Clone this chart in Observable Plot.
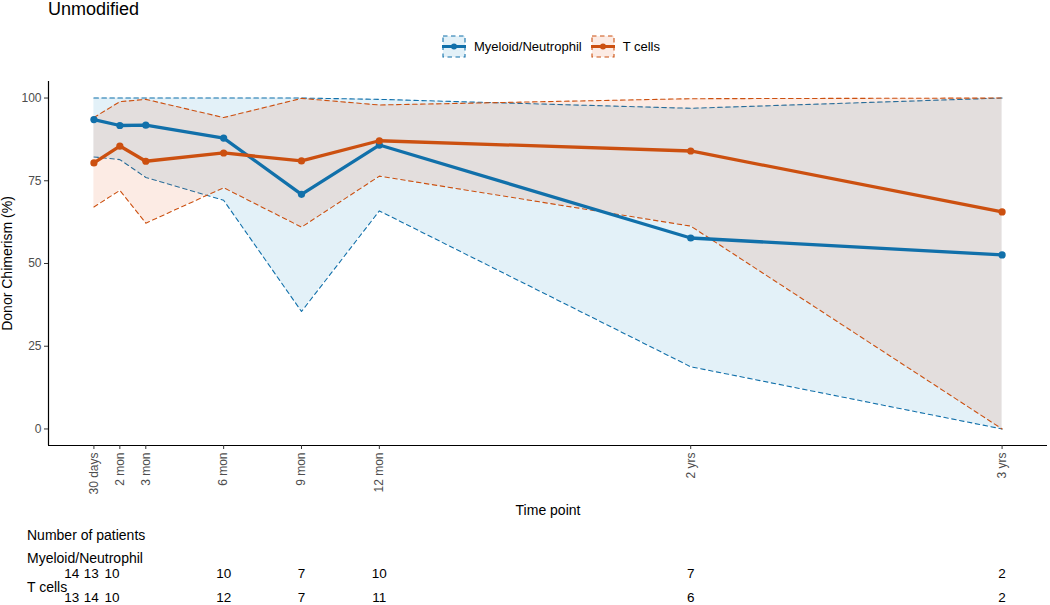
<!DOCTYPE html>
<html>
<head>
<meta charset="utf-8">
<script src="https://cdn.jsdelivr.net/npm/d3@7"></script>
<script src="https://cdn.jsdelivr.net/npm/@observablehq/plot@0.6"></script>
<style>
  body { margin: 0; background: #fff; font-family: "Liberation Sans", Arial, Helvetica, sans-serif; }
  #root { position: relative; width: 1050px; height: 605px; overflow: hidden; background: #fff; }
  #title { position: absolute; left: 48px; top: 0px; font-size: 18px; line-height: 18px; color: #000; }
  #legend { position: absolute; left: 442px; top: 35px; display: flex; align-items: center; font-size: 13px; color: #000; }
  #legend .item { display: flex; align-items: center; margin-right: 9px; }
  #legend svg { margin-right: 8px; display: block; }
  #chart { position: absolute; left: 0; top: 64px; }
  #table { position: absolute; left: 0; top: 560px; }
  .rowlab { position: absolute; left: 27px; font-size: 14px; line-height: 16px; color: #000; white-space: nowrap; }
</style>
</head>
<body>
<div id="root">
  <div id="title">Unmodified</div>
  <div id="legend"></div>
  <div id="chart"></div>
  <div class="rowlab" style="top:527px">Number of patients</div>
  <div class="rowlab" style="top:550px" id="lab0"></div>
  <div class="rowlab" style="top:579px" id="lab1"></div>
  <div id="table"></div>
</div>
<script>
// ---- data ----
const timeLabels = ["30 days", "2 mon", "3 mon", "6 mon", "9 mon", "12 mon", "2 yrs", "3 yrs"];
const timeMonths = [1, 2, 3, 6, 9, 12, 24, 36];
const seriesNames = ["Myeloid/Neutrophil", "T cells"];
const seriesColors = ["#1170AA", "#CC5010"];
const ribbonColors = ["#168AC5", "#E6581E"];

const myeloidMean  = [93.5, 91.7, 91.8, 87.9, 70.9, 85.8, 57.7, 52.6];
const myeloidLower = [82.2, 81.4, 76.0, 69.1, 35.5, 65.9, 18.8, 0];
const myeloidUpper = [100, 100, 100, 100, 100, 99.6, 96.9, 100];

const tcellMean  = [80.4, 85.5, 80.9, 83.4, 81.0, 87.1, 84.0, 65.6];
const tcellLower = [67.1, 72.1, 62.2, 72.9, 61.0, 76.4, 61.3, 0];
const tcellUpper = [94.1, 98.9, 99.6, 94.1, 99.9, 97.9, 99.8, 100];

const myeloidN = [14, 13, 10, 10, 7, 10, 7, 2];
const tcellN   = [13, 14, 10, 12, 7, 11, 6, 2];
const countPos = [0.15, 0.9, 1.7, 6, 9, 12, 24, 36]; // where the counts sit along the time axis (months)

const yTicks = [0, 25, 50, 75, 100];
const xDomain = [-0.75, 37.75];
const yDomain = [-5, 105];

// ---- build tables ----
const seriesData = [
  {name: seriesNames[0], mean: myeloidMean, lower: myeloidLower, upper: myeloidUpper, n: myeloidN},
  {name: seriesNames[1], mean: tcellMean, lower: tcellLower, upper: tcellUpper, n: tcellN}
];
const long = seriesData.flatMap(s => timeMonths.map((m, i) => ({
  series: s.name, month: m, mean: s.mean[i], lower: s.lower[i], upper: s.upper[i]
})));
const counts = seriesData.flatMap(s => s.n.map((n, i) => ({series: s.name, pos: countPos[i], n})));

const color = {domain: seriesNames, range: seriesColors};
const dash = "4.5,3.5";
const font = "'Liberation Sans', Arial, Helvetica, sans-serif";

const ribbonMarks = seriesNames.flatMap((name, i) => {
  const rows = long.filter(d => d.series === name);
  return [
    Plot.areaY(rows, {x: "month", y1: "lower", y2: "upper", fill: ribbonColors[i], fillOpacity: 0.12}),
    Plot.lineY(rows, {x: "month", y: "upper", stroke: seriesColors[i], strokeWidth: 1.1, strokeDasharray: dash}),
    Plot.lineY(rows, {x: "month", y: "lower", stroke: seriesColors[i], strokeWidth: 1.1, strokeDasharray: dash})
  ];
});

const chart = Plot.plot({
  width: 1050,
  height: 456,
  marginLeft: 48,
  marginRight: 3,
  marginTop: 17,
  marginBottom: 75,
  style: {fontFamily: font, background: "transparent"},
  x: {domain: xDomain},
  y: {domain: yDomain},
  color,
  marks: [
    ...ribbonMarks,
    Plot.lineY(long, {x: "month", y: "mean", z: "series", stroke: "series", strokeWidth: 3.3}),
    Plot.dot(long, {x: "month", y: "mean", fill: "series", r: 3.6}),
    Plot.ruleX([xDomain[0]], {stroke: "#000", strokeWidth: 1.2}),
    Plot.ruleY([yDomain[0]], {stroke: "#000", strokeWidth: 1.2}),
    Plot.axisY({ticks: yTicks, tickSize: 4, tickPadding: 3, fontSize: 12, fill: "#4d4d4d", stroke: "#333", label: null}),
    Plot.axisY({ticks: [], label: "Donor Chimerism (%)", labelAnchor: "center", labelArrow: "none", labelOffset: 46, fontSize: 14, fill: "#000"}),
    Plot.axisX({ticks: timeMonths, tickFormat: d => timeLabels[timeMonths.indexOf(d)], tickRotate: -90, tickSize: 4, tickPadding: 3, fontSize: 12, fill: "#4d4d4d", stroke: "#333", label: null}),
    Plot.axisX({ticks: [], label: "Time point", labelAnchor: "center", labelArrow: "none", labelOffset: 69, fontSize: 14, fill: "#000"})
  ]
});
document.getElementById("chart").appendChild(chart);

const table = Plot.plot({
  width: 1050,
  height: 45,
  marginLeft: 48,
  marginRight: 3,
  marginTop: 0,
  marginBottom: 0,
  style: {fontFamily: font, background: "transparent"},
  x: {domain: xDomain, axis: null},
  y: {type: "point", domain: seriesNames, range: [13, 37.5], padding: 0, axis: null},
  marks: [
    Plot.text(counts, {x: "pos", y: "series", text: d => String(d.n), fontSize: 13.5, fill: "#000"})
  ]
});
document.getElementById("table").appendChild(table);

document.getElementById("lab0").textContent = seriesNames[0];
document.getElementById("lab1").textContent = seriesNames[1];

// legend
const legend = document.getElementById("legend");
seriesNames.forEach((name, i) => {
  const c = seriesColors[i];
  const f = ribbonColors[i];
  const item = document.createElement("div");
  item.className = "item";
  item.innerHTML = `<svg width="24" height="23"><rect x="1" y="1" width="22" height="21" fill="${f}" fill-opacity="0.12" stroke="${c}" stroke-width="1.1" stroke-dasharray="4.5,3.5"/><line x1="0" x2="24" y1="11.5" y2="11.5" stroke="${c}" stroke-width="3"/><circle cx="12" cy="11.5" r="3" fill="${c}"/></svg><span>${name}</span>`;
  legend.appendChild(item);
});
</script>
</body>
</html>
